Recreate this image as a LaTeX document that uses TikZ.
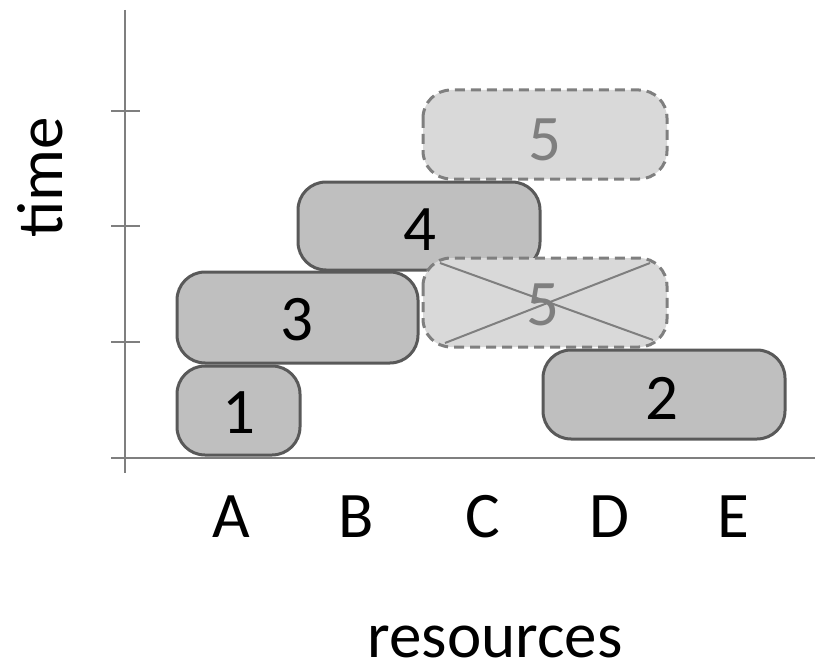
\documentclass[tikz,border=0pt]{standalone}
\usepackage{fontspec}
\setmainfont{Carlito}
\definecolor{boxfill}{HTML}{BFBFBF}
\definecolor{boxline}{HTML}{595959}
\definecolor{ghostfill}{HTML}{D9D9D9}
\definecolor{ghostline}{HTML}{7F7F7F}
\definecolor{axiscol}{HTML}{7F7F7F}
\begin{document}
\begin{tikzpicture}[x=1pt,y=-1pt,
  every node/.style={font=\fontsize{65}{74}\selectfont, inner sep=0pt},
  task/.style={draw=boxline, fill=boxfill, line width=3pt, rounded corners=28pt, rectangle},
  ghost/.style={draw=ghostline, fill=ghostfill, line width=3pt, rounded corners=28pt, rectangle, dash pattern=on 10pt off 6pt},
  axis/.style={draw=axiscol, line width=2.8pt},
  ghosttext/.style={text=ghostline},
  boxtext/.style={text=black}
]
\useasboundingbox (0,0) rectangle (815,669);
% axes
\coordinate (vtop) at (125,10);
\coordinate (vbot) at (125,473);
\coordinate (hleft) at (111,458);
\coordinate (hright) at (815,458);
\draw[axis] (vtop) -- (vbot);
\draw[axis] (hleft) -- (hright);
\foreach \yy/\nm in {111/ta,226/tb,342/tc}{
  \coordinate (\nm l) at (111,\yy);
  \coordinate (\nm r) at (140,\yy);
  \draw[axis] (\nm l) -- (\nm r);
}
% boxes
\draw[task] (177,366) rectangle (300,455);
\draw[task] (177,272) rectangle (418,363);
\draw[task] (298,182) rectangle (540,270);
\draw[task] (543,350) rectangle (785,439);
\draw[ghost] (423,90) rectangle (667,179);
\draw[ghost] (423,258) rectangle (667,347);
% box labels
\node[boxtext] (n1) at (239,413) {1};
\node[boxtext] (n3) at (297,320) {3};
\node[boxtext] (n4) at (420,230) {4};
\node[boxtext] (n2) at (662,398) {2};
\node[ghosttext] (n5a) at (545,140) {5};
\node[ghosttext] (n5b) at (543,305) {5};
% cross
\coordinate (c1) at (440,263);
\coordinate (c2) at (653,340);
\coordinate (c3) at (445,343);
\coordinate (c4) at (650,263);
\draw[draw=axiscol, line width=2pt] (c1) -- (c2);
\draw[draw=axiscol, line width=2pt] (c3) -- (c4);
% axis labels
\node[rotate=90] (ylab) at (40,177) {time};
\node (la) at (231,517) {A};
\node (lb) at (356,517) {B};
\node (lc) at (483,517) {C};
\node (ld) at (609,517) {D};
\node (le) at (733,517) {E};
\node (xlab) at (495,642) {resources};
\end{tikzpicture}
\end{document}
